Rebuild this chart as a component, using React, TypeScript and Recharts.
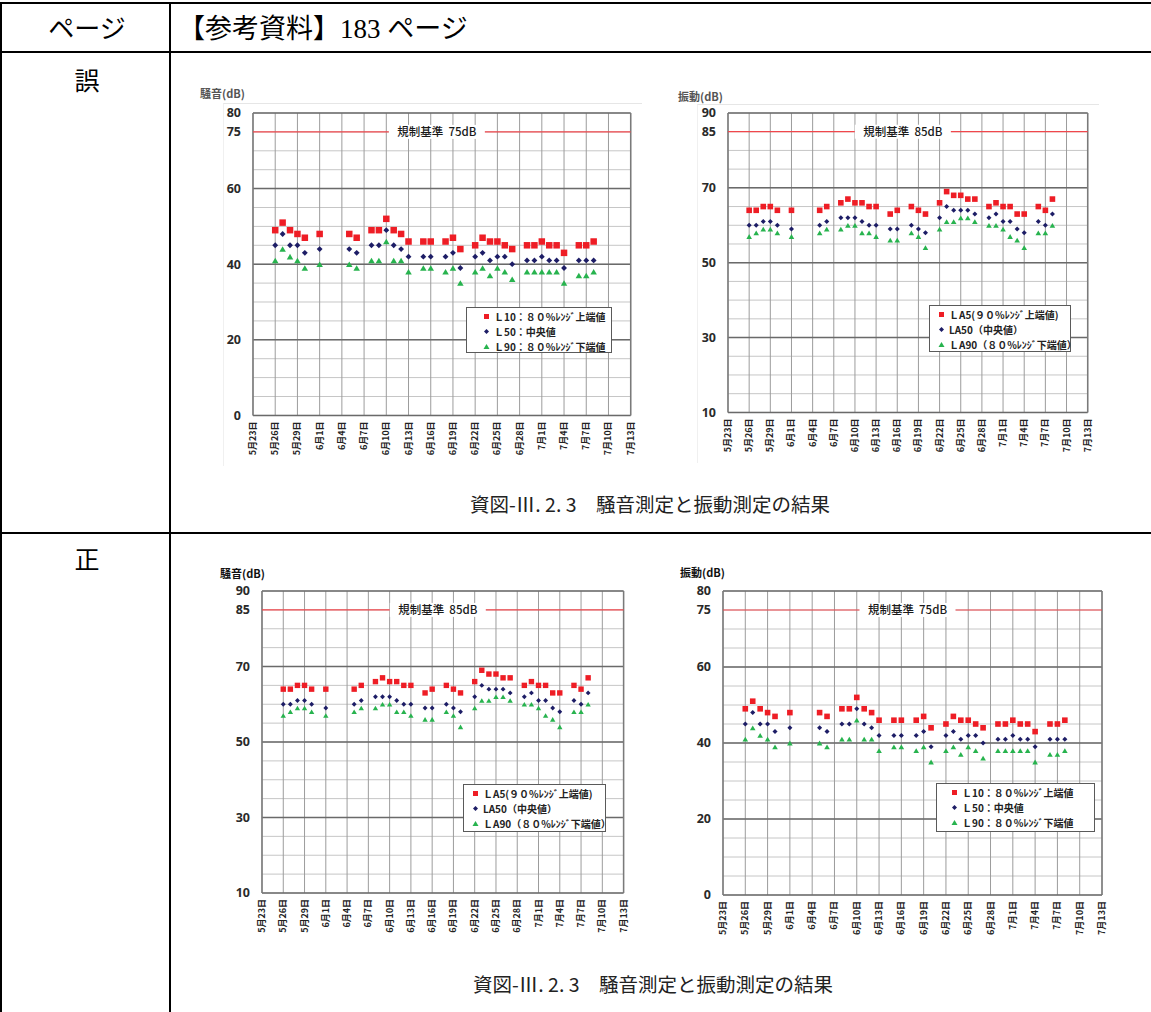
import React from 'react';
import { ScatterChart, Scatter, XAxis, YAxis, CartesianGrid, ReferenceLine, Legend } from 'recharts';

// measurement days (5/23 = day 0)
const dates = ['5/26', '5/27', '5/28', '5/29', '5/30', '6/1', '6/5', '6/6', '6/8', '6/9', '6/10', '6/11', '6/12', '6/13', '6/15', '6/16', '6/18', '6/19', '6/20', '6/22', '6/23', '6/24', '6/25', '6/26', '6/27', '6/29', '6/30', '7/1', '7/2', '7/3', '7/4', '7/6', '7/7', '7/8'];

const tickLabels = ['5月23日', '5月26日', '5月29日', '6月1日', '6月4日', '6月7日', '6月10日', '6月13日', '6月16日', '6月19日', '6月22日', '6月25日', '6月28日', '7月1日', '7月4日', '7月7日', '7月10日', '7月13日'];

// 0-80 scale series (L10 / L50 / L90)
const l10 = [49, 51, 49, 48, 47, 48, 48, 47, 49, 49, 52, 49, 48, 46, 46, 46, 46, 47, 44, 45, 47, 46, 46, 45, 44, 45, 45, 46, 45, 45, 43, 45, 45, 46];
const l50 = [45, 48, 45, 45, 43, 44, 44, 43, 45, 45, 49, 45, 44, 42, 42, 42, 42, 43, 39, 42, 43, 41, 42, 42, 40, 41, 41, 42, 41, 41, 39, 41, 41, 41];
const l90 = [41, 44, 42, 41, 39, 40, 40, 39, 41, 41, 46, 41, 41, 38, 39, 39, 38, 39, 35, 38, 39, 37, 39, 38, 36, 38, 38, 38, 38, 38, 35, 37, 37, 38];

// 10-90 scale series (LA5 / LA50 / LA90)
const la5 = [64, 64, 65, 65, 64, 64, 64, 65, 66, 67, 66, 66, 65, 65, 63, 64, 65, 64, 63, 66, 69, 68, 68, 67, 67, 65, 66, 65, 65, 63, 63, 65, 64, 67];
const la50 = [60, 60, 61, 61, 60, 59, 60, 61, 62, 62, 62, 61, 60, 60, 59, 59, 60, 59, 58, 62, 65, 64, 64, 64, 63, 62, 63, 61, 61, 59, 58, 61, 60, 63];
const la90 = [57, 58, 59, 59, 58, 57, 58, 59, 59, 60, 60, 58, 58, 57, 56, 56, 58, 57, 54, 59, 61, 61, 62, 62, 61, 60, 60, 59, 57, 56, 54, 58, 58, 60];

const namesA = ['Ｌ10：８０%ﾚﾝｼﾞ上端値', 'Ｌ50：中央値', 'Ｌ90：８０%ﾚﾝｼﾞ下端値'];
const namesB = ['ＬA5(９０%ﾚﾝｼﾞ上端値)', 'LA50（中央値）', 'ＬA90（８０%ﾚﾝｼﾞ下端値）'];

const RED = '#ee1d25';
const NAVY = '#1d1d66';
const GREEN = '#27b34e';
const JP = '"Noto Sans CJK JP", "Noto Sans", sans-serif';
const SERIF = '"Liberation Serif", "DejaVu Serif", "Noto Sans CJK JP", serif';

const dayIndex = (s: string) => {
  const [m, d] = s.split('/').map(Number);
  return Math.round((Date.UTC(2020, m - 1, d) - Date.UTC(2020, 4, 23)) / 86400000);
};
const toPoints = (vals: number[]) => vals.map((v, i) => ({ x: dayIndex(dates[i]), y: v }));

const scales = {
  A: { domain: [0, 80], ticks: [0, 20, 40, 60, 75, 80], major: [0, 20, 40, 60, 80], limit: 75, series: [l10, l50, l90], names: namesA },
  B: { domain: [10, 90], ticks: [10, 30, 50, 70, 85, 90], major: [10, 30, 50, 70, 90], limit: 85, series: [la5, la50, la90], names: namesB },
};

const kinds = ['square', 'diamond', 'triangle'];
const colors = [RED, NAVY, GREEN];

const markShape = (kind: string, s: number) => (p: any) => {
  const { cx, cy } = p;
  if (kind === 'square') return <rect x={cx - s / 2} y={cy - s / 2} width={s} height={s} fill={RED} />;
  if (kind === 'diamond') {
    const r = s * 0.45;
    return <polygon points={`${cx},${cy - r} ${cx + r},${cy} ${cx},${cy + r} ${cx - r},${cy}`} fill={NAVY} />;
  }
  const h = s * 0.85;
  return <polygon points={`${cx},${cy - h / 2} ${cx + s / 2},${cy + h / 2} ${cx - s / 2},${cy + h / 2}`} fill={GREEN} />;
};

const LegendMark = ({ kind }: { kind: string }) => (
  <svg width={7} height={7} style={{ marginRight: 4, flex: 'none' }}>
    {kind === 'square' && <rect x={1} y={1} width={5} height={5} fill={RED} />}
    {kind === 'diamond' && <polygon points="3.5,1 6,3.5 3.5,6 1,3.5" fill={NAVY} />}
    {kind === 'triangle' && <polygon points="3.5,1 6.5,6 0.5,6" fill={GREEN} />}
  </svg>
);

const LimitLabel = (props: any) => {
  const { viewBox, text } = props;
  const cx = viewBox.x + viewBox.width / 2 - 5;
  const cy = viewBox.y;
  return (
    <g>
      <rect x={cx - 48} y={cy - 7} width={96} height={14} fill="#fff" />
      <text x={cx} y={cy + 4} textAnchor="middle" fontSize={11.5} fontWeight={500} fill="#1a1a1a" fontFamily={JP} style={{ whiteSpace: 'pre' }}>
        {text}
      </text>
    </g>
  );
};

const DateTick = (props: any) => {
  const { x, y, payload } = props;
  return (
    <text
      transform={`translate(${x + 3},${y + 6}) rotate(-90)`}
      textAnchor="end"
      fontSize={9}
      fontWeight="bold"
      fill="#222"
      fontFamily={JP}
    >
      {tickLabels[Math.round(payload.value / 3)]}
    </text>
  );
};

const Y_W = 40;
const MT = 12;
const MR = 6;
const X_H = 52;

function Panel({ scale, box, title, legend, mark, titleColor, frame }: any) {
  const cfg = (scales as any)[scale];
  const [x0, y0, x1, y1] = box;
  const left = x0 - Y_W;
  const top = y0 - MT;
  const width = x1 - x0 + Y_W + MR;
  const height = y1 - y0 + MT + X_H;
  const minor: number[] = [];
  for (let v = cfg.domain[0]; v <= cfg.domain[1]; v += 5) minor.push(v);
  const xTicks = tickLabels.map((_, i) => i * 3);

  return (
    <>
      {frame && (
        <div style={{ position: 'absolute', left: frame[0], top: frame[1], width: frame[2] - frame[0], height: frame[3] - frame[1], borderTop: '1px solid #e6e6e6', borderLeft: '1px solid #f0f0f0' }} />
      )}
      <div style={{ position: 'absolute', left: title.x, top: title.y - 8, fontFamily: JP, fontSize: 11, fontWeight: 'bold', color: titleColor, whiteSpace: 'nowrap' }}>
        {title.text}
      </div>
      <div style={{ position: 'absolute', left, top }}>
        <ScatterChart width={width} height={height} margin={{ top: MT, right: MR, bottom: 0, left: 0 }}>
          <CartesianGrid horizontalValues={minor} vertical={false} stroke="#c6c6c6" strokeWidth={1} />
          <CartesianGrid horizontal={false} verticalValues={xTicks} stroke="#9c9c9c" strokeWidth={1} />
          <CartesianGrid horizontalValues={cfg.major} vertical={false} stroke="#6a6a6a" strokeWidth={1.5} />
          <CartesianGrid horizontal={false} verticalValues={[0, 51]} stroke="#7a7a7a" strokeWidth={1.5} />
          <XAxis
            type="number"
            dataKey="x"
            domain={[0, 51]}
            ticks={xTicks}
            interval={0}
            height={X_H}
            axisLine={false}
            tickLine={false}
            tickSize={0}
            tickMargin={0}
            tick={<DateTick />}
          />
          <YAxis
            type="number"
            dataKey="y"
            domain={cfg.domain}
            ticks={cfg.ticks}
            interval={0}
            width={Y_W}
            axisLine={false}
            tickLine={false}
            tickSize={0}
            tickMargin={12}
            tick={{ fontSize: 12.5, fontWeight: 'bold', fill: '#2a2a2a', fontFamily: '"Noto Sans", sans-serif' }}
          />
          <ReferenceLine y={cfg.limit} stroke="#f0474c" strokeWidth={1.2} label={<LimitLabel text={`規制基準  ${cfg.limit}dB`} />} />
          {cfg.series.map((vals: number[], i: number) => (
            <Scatter
              key={i}
              name={cfg.names[i]}
              data={toPoints(vals)}
              fill={colors[i]}
              shape={markShape(kinds[i], mark)}
              isAnimationActive={false}
            />
          ))}
          <Legend
            layout="vertical"
            align="center"
            verticalAlign="middle"
            wrapperStyle={{ left: legend.x - left, top: legend.y - top, width: legend.w, height: legend.h }}
            content={() => (
              <div style={{ boxSizing: 'border-box', width: legend.w, height: legend.h, border: '1px solid #5a5a5a', background: '#fff', paddingLeft: legend.pad, paddingTop: 1, fontFamily: JP, fontSize: 10, fontWeight: 'bold', color: '#222' }}>
                {cfg.names.map((n: string, i: number) => (
                  <div key={n} style={{ display: 'flex', alignItems: 'center', height: 15, whiteSpace: 'nowrap' }}>
                    <LegendMark kind={kinds[i]} />
                    <span>{n}</span>
                  </div>
                ))}
              </div>
            )}
          />
        </ScatterChart>
      </div>
    </>
  );
}

const line = (l: number, t: number, w: number, h: number) => (
  <div style={{ position: 'absolute', left: l, top: t, width: w, height: h, background: '#000' }} />
);

const caption = '資図-Ⅲ. 2. 3　騒音測定と振動測定の結果';

export default function App() {
  return (
    <div style={{ position: 'absolute', left: 0, top: 0, width: 1151, height: 1012, background: '#fff', overflow: 'hidden' }}>
      {line(0, 2, 1151, 2)}
      {line(0, 2, 2, 1010)}
      {line(169, 2, 2, 1010)}
      {line(0, 51, 1151, 2)}
      {line(0, 532, 1151, 2)}

      <div style={{ position: 'absolute', left: 0, top: 8, width: 174, textAlign: 'center', fontFamily: SERIF, fontSize: 26 }}>ページ</div>
      <div style={{ position: 'absolute', left: 178, top: 7, fontFamily: SERIF, fontSize: 27, whiteSpace: 'pre' }}>【参考資料】183 ページ</div>
      <div style={{ position: 'absolute', left: 0, top: 61, width: 174, textAlign: 'center', fontFamily: SERIF, fontSize: 25 }}>誤</div>
      <div style={{ position: 'absolute', left: 0, top: 540, width: 174, textAlign: 'center', fontFamily: SERIF, fontSize: 25 }}>正</div>

      <Panel
        scale="A"
        box={[253.3, 113.3, 631, 415.7]}
        title={{ text: '騒音(dB)', x: 200, y: 93 }}
        titleColor="#555"
        legend={{ x: 466, y: 307, w: 146, h: 46, pad: 16 }}
        mark={6.5}
        frame={[223, 102.5, 641, 465]}
      />
      <Panel
        scale="B"
        box={[728.3, 113.3, 1088, 412.7]}
        title={{ text: '振動(dB)', x: 678, y: 96 }}
        titleColor="#555"
        legend={{ x: 929, y: 305, w: 142, h: 47, pad: 8 }}
        mark={5.6}
        frame={[697, 104, 1098, 462]}
      />
      <div style={{ position: 'absolute', left: 470, top: 489, fontFamily: JP, fontSize: 19.5, whiteSpace: 'pre', color: '#222' }}>{caption}</div>

      <Panel
        scale="B"
        box={[261.7, 590.7, 623.3, 892.7]}
        title={{ text: '騒音(dB)', x: 220, y: 573 }}
        titleColor="#111"
        legend={{ x: 463, y: 784, w: 143, h: 48, pad: 8 }}
        mark={5.4}
      />
      <Panel
        scale="A"
        box={[722.7, 590.7, 1101.7, 894.7]}
        title={{ text: '振動(dB)', x: 680, y: 572 }}
        titleColor="#111"
        legend={{ x: 936, y: 783, w: 159, h: 49, pad: 14 }}
        mark={5.6}
      />
      <div style={{ position: 'absolute', left: 473, top: 969, fontFamily: JP, fontSize: 19.5, whiteSpace: 'pre', color: '#222' }}>{caption}</div>
    </div>
  );
}
